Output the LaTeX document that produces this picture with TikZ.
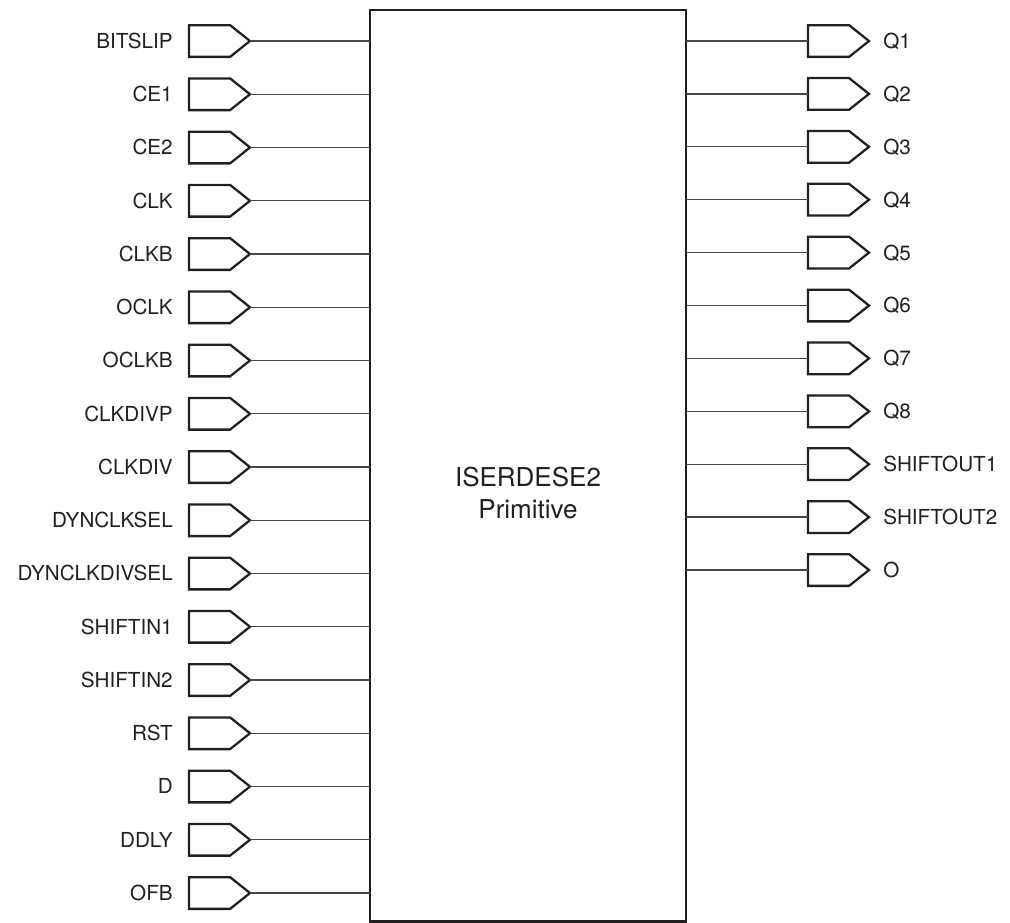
\documentclass[tikz,border=0pt]{standalone}
\usepackage{fontspec}
\setmainfont{TeX Gyre Heros}
\usepackage{tikz}
\usetikzlibrary{shapes.symbols,positioning}
\definecolor{pinline}{RGB}{35,31,32}
\definecolor{wirecol}{RGB}{70,70,70}

\begin{document}
\begin{tikzpicture}[x=0.75pt, y=-0.75pt,
  prim/.style={rectangle,draw=pinline,line width=2.1pt,minimum width=237pt,minimum height=683.6pt,inner sep=0,outer sep=0},
  port/.style={signal,signal to=east,signal pointer angle=77,draw=pinline,line width=1.7pt,minimum width=45.75pt,minimum height=23.8pt,inner sep=0,outer sep=0},
  pinname/.style={font=\fontsize{15.5}{18}\selectfont,text=pinline,inner sep=0,text height=11.1pt,text depth=0pt},
  wire/.style={draw=wirecol,line width=1pt}]

  \useasboundingbox (0,0) rectangle (1010,922);

  \node[prim] (prim) at (528,465.75) {};
  \node[font=\fontsize{19.5}{24}\selectfont,align=center,text=pinline] (primname) at (528,493) {ISERDESE2\\Primitive};

  % inputs
  \foreach \pin [count=\i from 0] in {BITSLIP,CE1,CE2,CLK,CLKB,OCLK,OCLKB,CLKDIVP,CLKDIV,DYNCLKSEL,DYNCLKDIVSEL,SHIFTIN1,SHIFTIN2,RST,D,DDLY,OFB} {
    \node[port,anchor=west] (in\i) at (189,41+53.25*\i) {};
    \node[pinname,left=12pt of in\i] (inname\i) {\pin};
    \draw[wire] (in\i.east) -- (in\i.east -| prim.west);
  }

  % outputs
  \foreach \pin [count=\i from 0] in {Q1,Q2,Q3,Q4,Q5,Q6,Q7,Q8,SHIFTOUT1,SHIFTOUT2,O} {
    \node[port,anchor=west] (out\i) at (808,41+52.9*\i) {};
    \node[pinname,right=10.5pt of out\i] (outname\i) {\pin};
    \draw[wire] (prim.east |- out\i.west) -- (out\i.west);
  }
\end{tikzpicture}
\end{document}
